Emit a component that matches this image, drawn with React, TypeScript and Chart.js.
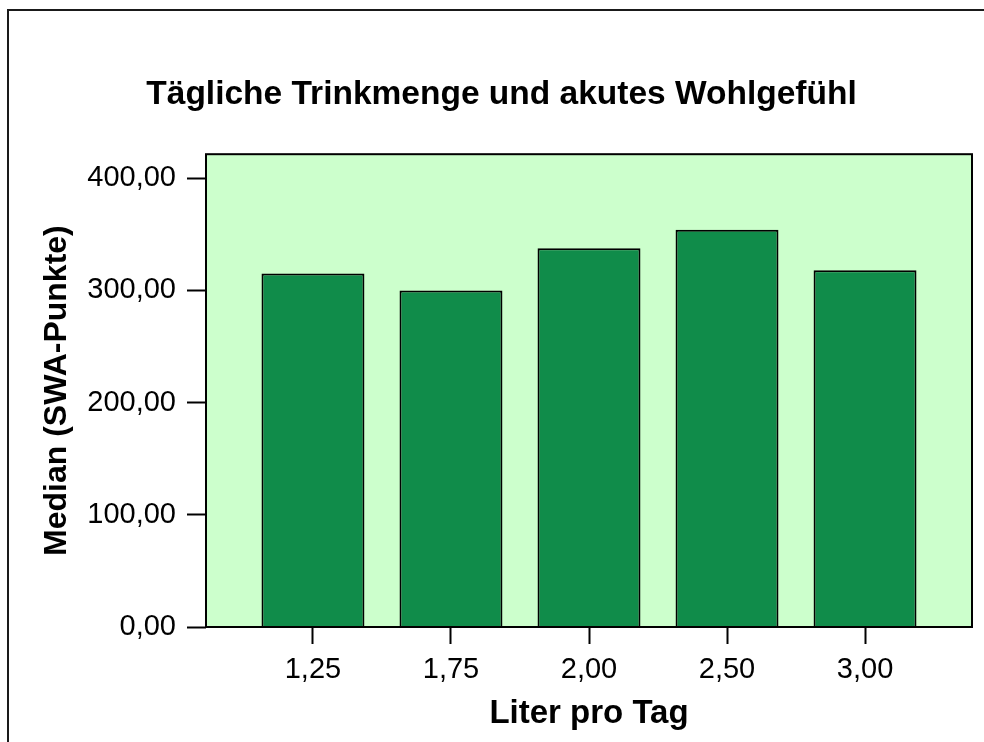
import { useEffect, useRef } from 'react';
import { Chart, registerables } from 'chart.js';

Chart.register(...registerables);

const categories = ['1,25', '1,75', '2,00', '2,50', '3,00'];
const medianValues = [315, 300, 337.5, 354, 318];
const yTickLabels = ['0,00', '100,00', '200,00', '300,00', '400,00'];
const chartTitle = 'Tägliche Trinkmenge und akutes Wohlgefühl';
const xAxisTitle = 'Liter pro Tag';
const yAxisTitle = 'Median (SWA-Punkte)';

const FONT = "'Liberation Sans', Arial, Helvetica, sans-serif";

const framePlugin = {
  id: 'frame',
  beforeDraw(chart: any) {
    const { ctx, chartArea: a } = chart;
    ctx.save();
    ctx.fillStyle = '#ffffff';
    ctx.fillRect(0, 0, chart.width, chart.height);
    ctx.fillStyle = '#CCFFCC';
    ctx.fillRect(a.left, a.top, a.right - a.left, a.bottom - a.top);
    ctx.strokeStyle = '#1a1a1a';
    ctx.lineWidth = 2;
    ctx.beginPath();
    ctx.moveTo(8, chart.height);
    ctx.lineTo(8, 10);
    ctx.lineTo(chart.width, 10);
    ctx.stroke();
    ctx.restore();
  },
  afterDatasetsDraw(chart: any) {
    const { ctx, chartArea: a } = chart;
    ctx.save();
    ctx.strokeStyle = '#000000';
    ctx.lineWidth = 2;
    ctx.strokeRect(a.left, a.top, a.right - a.left, a.bottom - a.top);
    ctx.restore();
  },
};

export default function App() {
  const ref = useRef<HTMLCanvasElement | null>(null);
  useEffect(() => {
    if (!ref.current) return;
    const chart = new Chart(ref.current, {
      type: 'bar',
      data: {
        datasets: [
          {
            data: medianValues.map((v, i) => ({ x: i, y: v })),
            backgroundColor: '#108C4A',
            borderColor: '#000000',
            borderWidth: 2,
            barPercentage: 0.746,
            categoryPercentage: 1,
          },
        ],
      },
      options: {
        animation: false,
        responsive: false,
        layout: { padding: { left: 31, right: 12, top: 0, bottom: 0 } },
        plugins: {
          legend: { display: false },
          tooltip: { enabled: false },
          title: {
            display: true,
            text: chartTitle,
            color: '#000',
            font: { family: FONT, size: 33.5, weight: 'bold' },
            padding: { top: 75, bottom: 39 },
          },
        },
        scales: {
          x: {
            type: 'linear',
            min: -0.775,
            max: 4.775,
            offset: false,
            border: { display: false },
            grid: {
              offset: false,
              drawOnChartArea: false,
              drawTicks: true,
              tickLength: 17,
              tickColor: '#000',
              tickWidth: 2,
            },
            ticks: {
              stepSize: 1,
              includeBounds: false,
              autoSkip: false,
              maxRotation: 0,
              padding: 9,
              color: '#000',
              font: { family: FONT, size: 29 },
              callback: (v: any) => categories[Math.round(Number(v))] ?? '',
            },
            title: {
              display: true,
              text: xAxisTitle,
              color: '#000',
              font: { family: FONT, size: 33, weight: 'bold' },
              padding: { top: 0, bottom: 8 },
            },
            afterFit: (s: any) => {
              s.height = 115;
            },
          },
          y: {
            type: 'linear',
            min: 0,
            max: 421.4,
            border: { display: false },
            grid: {
              drawOnChartArea: false,
              drawTicks: true,
              tickLength: 19,
              tickColor: '#000',
              tickWidth: 2,
            },
            ticks: {
              stepSize: 100,
              includeBounds: false,
              padding: 11,
              color: '#000',
              font: { family: FONT, size: 29 },
              callback: (v: any) => yTickLabels[Math.round(Number(v) / 100)] ?? '',
            },
            title: {
              display: true,
              text: yAxisTitle,
              color: '#000',
              font: { family: FONT, size: 32, weight: 'bold' },
              padding: { top: 7, bottom: 0 },
            },
            afterFit: (s: any) => {
              s.width = 175;
            },
          },
        },
      },
      plugins: [framePlugin],
    } as any);
    return () => chart.destroy();
  }, []);
  return (
    <div style={{ position: 'absolute', left: 0, top: 0, width: 984, height: 742 }}>
      <canvas ref={ref} width={984} height={742} style={{ display: 'block' }} />
    </div>
  );
}
